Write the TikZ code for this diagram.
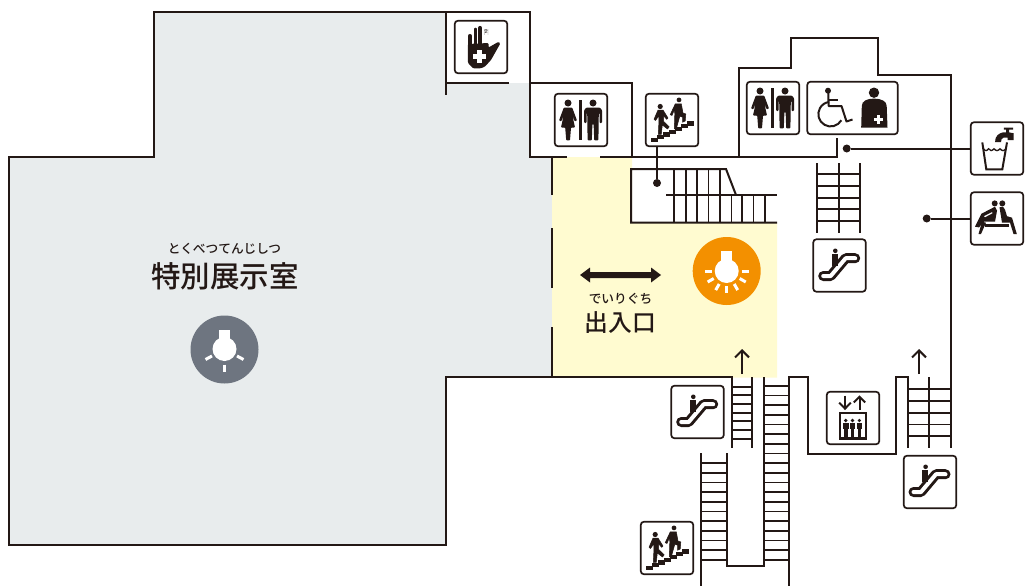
\documentclass[tikz,border=0pt]{standalone}
\usepackage{fontspec}
\newfontfamily\jpfont{Noto Sans CJK JP}
\newfontfamily\jpmed{Noto Sans CJK JP Medium}
\newfontfamily\sansf{Liberation Sans}
\usetikzlibrary{arrows.meta}
\definecolor{ink}{HTML}{231815}
\definecolor{galgrey}{HTML}{E8ECED}
\definecolor{entry}{HTML}{FFFBD0}
\definecolor{orangec}{HTML}{F39000}
\definecolor{greyc}{HTML}{6E7580}
\tikzset{
  wall/.style={draw=ink,line width=2pt,line cap=butt,line join=miter},
  rung/.style={draw=ink,line width=1.6pt},
  icon/.style={draw=ink,fill=white,line width=1.7pt,rounded corners=3pt,minimum width=52.4pt,minimum height=52.4pt,inner sep=0pt},
  dotnode/.style={circle,fill=ink,minimum size=8pt,inner sep=0pt},
  ruby/.style={font=\jpmed\fontsize{12.7}{12.7}\selectfont,text=ink,inner sep=0pt},
  bigl/.style={text=ink,inner sep=0pt},
  woman/.pic={
    \fill[ink] (14,10) circle (3.5);
    \fill[ink,rounded corners=.8pt] (9.8,14.6) -- (18.2,14.6) -- (23,27.5) -- (20.7,28.4) -- (18.3,22) -- (21,34.5) -- (17,34.5) -- (16,47.3) -- (12.2,47.3) -- (11.2,34.5) -- (7,34.5) -- (9.7,22) -- (7.3,28.4) -- (5,27.5) -- cycle;
  },
  man/.pic={
    \fill[ink] (39,10) circle (3.5);
    \fill[ink,rounded corners=.8pt] (32.3,14.6) -- (45.7,14.6) -- (48,17) -- (48,30) -- (45.5,30) -- (45.5,20) -- (44.8,20) -- (44.4,47.3) -- (40.2,47.3) -- (39.6,31) -- (38.4,31) -- (37.8,47.3) -- (33.6,47.3) -- (33.2,20) -- (32.5,20) -- (32.5,30) -- (30.2,30) -- (30.2,17) -- cycle;
  },
  wcpair/.pic={
    \pic {woman}; \pic {man};
    \fill[ink] (25.4,6.7) rectangle (28,47.3);
  },
  handicon/.pic={
    \draw[ink,line width=4.1pt,line cap=round] (16,16) -- (16,30);
    \draw[ink,line width=3.9pt,line cap=round] (21.5,9.6) -- (21.5,30);
    \draw[ink,line width=4.2pt,line cap=round] (26.2,8) -- (26.2,30);
    \fill[ink,rounded corners=1pt] (13.9,24) -- (34.5,23) -- (34.5,27.5) -- (44.5,21.8) -- (46.3,23.5) -- (37,40) -- (31,46.5) -- (27,48.3) -- (19,48.3) -- (14,43) -- cycle;
    \draw[gray,line width=.3pt] (30.2,15) -- (30.2,9.5) arc[start angle=180,end angle=0,radius=1.9] -- (34,15);
    \node[inner sep=0pt,text=ink,font=\sansf\fontsize{5.5}{5.5}\selectfont] (handtwo) at (32.1,12) {2};
    \fill[white] (23.4,30) rectangle (28,42.8);
    \fill[white] (19.2,34.1) rectangle (32.2,38.7);
  },
  stairsicon/.pic={
    \foreach \si in {0,...,6}{
      \fill[ink] (5.7+6*\si,44.8-2.75*\si) rectangle (5.7+6*\si+7,44.8-2.75*\si+4.4);
    }
    \fill[ink] (15.2,13.5) circle (2.6);
    \fill[ink] (34,6.9) circle (2.4);
    \filldraw[ink,line width=.5pt,line join=round] (13,17) -- (18,17) -- (23,25) -- (21.7,26.3) -- (18.7,23) -- (18.7,28.5) -- (24.2,33.8) -- (22.5,36) -- (17.3,32) -- (16.3,41.3) -- (13.3,41.3) -- (14,27) -- (13.7,23) -- (10.5,27.5) -- (9,26.3) -- cycle;
    \filldraw[ink,line width=.5pt,line join=round] (30.3,10.8) -- (36.3,10.8) -- (38,20) -- (40.8,21) -- (40.2,28) -- (37.5,29.3) -- (37.5,24) -- (34.7,23.5) -- (31.3,35.8) -- (29.3,35.8) -- (29.8,21) -- (29.5,16.5) -- (27,22.5) -- (25.2,21.7) -- cycle;
  },
  escicon/.pic={
    \draw[ink,line width=10pt,line cap=round,line join=round] (10.5,37) -- (18,37) -- (33,19.2) -- (42.5,19.2);
    \draw[white,line width=4pt,line cap=round,line join=round] (10.5,37) -- (18,37) -- (33,19.2) -- (42.5,19.2);
    \fill[ink] (22.6,11.8) circle (2.3);
    \fill[ink] (19,14.7) rectangle (25.2,27.3);
  },
  wcperson/.pic={
    \fill[ink] (21,9.7) circle (3);
    \draw[ink,line width=2pt,line join=round] (21.3,12) -- (21.6,25) -- (34.5,25) -- (39.5,40.5) -- (45.5,38.5);
    \draw[ink,line width=2pt] (21.5,19) -- (31,19);
    \draw[ink,line width=2pt] (34.3,39.3) arc[start angle=30,end angle=262,radius=12.3];
    \fill[ink] (67,11.7) circle (5.2);
    \fill[ink] (54.2,46.6) -- (54.8,25) .. controls (54.8,20) and (60,17.6) .. (67,17.6) .. controls (74,17.6) and (79.7,20) .. (79.7,25) -- (80.5,46.6) -- cycle;
    \fill[white] (69.7,34.3) rectangle (73,43.3);
    \fill[white] (66.9,37.2) rectangle (75.8,40.4);
  },
  watericon/.pic={
    \draw[ink,line width=2pt,line join=miter] (12.3,20.7) -- (16.3,47.7) -- (32.3,47.7) -- (37,20.7);
    \draw[ink,line width=1.3pt] (13.5,27) .. controls (15,29.5) and (17,29.5) .. (18.5,27) .. controls (20,29.5) and (22,29.5) .. (24,27) .. controls (26,29.5) and (28,29.5) .. (30,27) .. controls (32,29.5) and (34,29.5) .. (36,27);
    \fill[ink] (25,20.5) .. controls (25,14) and (29,11.5) .. (33,10.7) -- (36,10.7) -- (36,8) -- (33.8,8) -- (33.8,5.8) -- (43,5.8) -- (43,8) -- (39,8) -- (39,10.7) -- (43.5,11.5) -- (43.5,18.5) -- (37.5,18.5) -- (37.5,16) -- (33.5,16) .. controls (31.5,16.5) and (31,18) .. (31,20.5) -- cycle;
  },
  seaticon/.pic={
    \fill[ink] (24.7,11.7) circle (3);
    \fill[ink] (32.3,11.7) circle (3);
    \fill[ink] (15,32.3) rectangle (38.7,34.8);
    \fill[ink] (25,15) -- (27,19) -- (25,30) -- (14,30) -- (9,35.7) -- (5,35) -- (11.5,22) -- cycle;
    \fill[ink] (12,30) -- (16,31) -- (11,42.3) -- (8.5,42.3) -- cycle;
    \fill[ink] (29.5,15.5) -- (33,15) -- (35,18) -- (37,24.5) -- (42,26) -- (46.8,42.3) -- (43.5,42.3) -- (40,31) -- (32,31) -- cycle;
    \fill[white] (14,24.5) -- (22,20.5) -- (22.5,21.5) -- (15,25.5) -- cycle;
  },
  lifticon/.pic={
    \draw[ink,line width=2pt] (19,4.5) -- (19,17);
    \draw[ink,line width=2pt] (13.2,11.7) -- (19,17.6) -- (24.8,11.7);
    \draw[ink,line width=2pt] (33.5,6) -- (33.5,19);
    \draw[ink,line width=2pt] (27.8,11.5) -- (33.5,5.8) -- (39.2,11.5);
    \draw[ink,line width=2.2pt,fill=white] (14,22) rectangle (40,47.5);
    \foreach \hx in {19.7,26.5,33.4}{
      \fill[ink] (\hx,29.5) circle (1.8);
      \fill[ink] (\hx-2.8,31.7) rectangle (\hx+2.8,38);
      \fill[ink] (\hx-1.9,38) rectangle (\hx+1.9,46);
    }
  },
  bulbthree/.pic={
    \fill[white] (0,0) circle (12);
    \fill[white] (-5.4,-19.5) rectangle (5.4,-6);
    \draw[white,line width=3pt] (-19,10.5) -- (-12.5,7);
    \draw[white,line width=3pt] (19,10.5) -- (12.5,7);
    \draw[white,line width=3pt] (0,15.5) -- (0,23);
  },
  bulbseven/.pic={
    \fill[white] (0,0) circle (12);
    \fill[white] (-5.7,-20.3) rectangle (5.7,-6);
    \foreach \ra in {0,30,60,90,120,150,180}{
      \draw[white,line width=3pt] (\ra:15) -- (\ra:22);
    }
  },
}
\begin{document}
\begin{tikzpicture}[x=1pt,y=-1pt]
\useasboundingbox (0,0) rectangle (1028,586);
% floors
\fill[galgrey] (9,157) -- (154,157) -- (154,12) -- (446,12) -- (446,83) -- (530,83) -- (530,157) -- (552,157) -- (552,377) -- (446,377) -- (446,545) -- (9,545) -- cycle;
\fill[entry] (552,157) -- (632,157) -- (632,223) -- (777,223) -- (777,377.5) -- (552,377.5) -- cycle;
% walls
\draw[wall] (446,83) -- (446,12) -- (154,12) -- (154,157) -- (9,157) -- (9,545) -- (446,545) -- (446,377) -- (731.7,377) -- (731.7,448);
\draw[wall] (446,12) -- (530,12) -- (530,157) -- (567,157);
\draw[wall] (446,83) -- (446,95);
\draw[wall] (446,83) -- (509,83);
\draw[wall] (530,83) -- (632,83) -- (632,157);
\draw[wall] (600,157) -- (739,157) -- (739,68) -- (791,68) -- (791,38) -- (878,38) -- (878,75) -- (951,75) -- (951,448);
\draw[wall] (739,157) -- (837,157) -- (837,138);
\draw[wall] (552,157) -- (552,195);
\draw[wall] (552,228) -- (552,288);
\draw[wall] (552,327) -- (552,377);
% upper stairs
\draw[wall] (777,222.5) -- (631,222.5) -- (631,169) -- (726,169) -- (736,195);
\draw[rung] (666,195) -- (777,195);
\foreach \sx in {674,685.7,697,708.5,720}{\draw[rung] (\sx,169) -- (\sx,222);}
\foreach \sx in {731.5,742,753.5,765}{\draw[rung] (\sx,195) -- (\sx,222);}
% escalator right top
\draw[wall] (817.3,163) -- (817.3,233);
\draw[wall] (838.7,163) -- (838.7,233);
\draw[wall] (860,163) -- (860,233);
\foreach \sy in {174,186,197.7,209,221}{\draw[rung] (817.3,\sy) -- (860,\sy);}
% bottom stairs
\draw[wall] (752,377) -- (752,448);
\foreach \sy in {386.7,395,404,412.7,421,430,438.7}{\draw[rung] (731.7,\sy) -- (752,\sy);}
\draw[wall] (764,377) -- (764,566) -- (727,566) -- (727,453);
\draw[wall] (701,453) -- (701,586);
\draw[wall] (908,448) -- (908,377) -- (896,377) -- (896,453.7) -- (808,453.7) -- (808,377) -- (789,377) -- (789,586);
\foreach \sn in {0,...,18}{\draw[rung] (764,385.7+\sn*9.67) -- (789,385.7+\sn*9.67);}
\foreach \sn in {8,...,18}{\draw[rung] (701,385.7+\sn*9.67) -- (727,385.7+\sn*9.67);}
\draw[wall] (929,377) -- (929,448);
\foreach \sy in {389,401,412.7,424.3,436}{\draw[rung] (908,\sy) -- (951,\sy);}
% up arrows
\coordinate (upaS) at (742,374); \coordinate (upaT) at (742,349);
\coordinate (upbS) at (919,374); \coordinate (upbT) at (919,349);
\draw[ink,line width=2pt,-{Straight Barb[length=7pt,width=14pt,line width=2pt]}] (upaS) -- (upaT);
\draw[ink,line width=2pt,-{Straight Barb[length=7pt,width=14pt,line width=2pt]}] (upbS) -- (upbT);
% icons
\node[icon] (hand) at (481,47) {};
\pic[shift={(454,20)}] {handicon};
\node[icon] (wca) at (581,120) {};
\pic[shift={(554,93)}] {wcpair};
\node[icon] (stra) at (672,120) {};
\pic[shift={(645,93)}] {stairsicon};
\node[icon] (wcb) at (773,108) {};
\pic[shift={(746,81)}] {wcpair};
\node[icon,minimum width=90.4pt] (wheel) at (852.5,108) {};
\pic[shift={(807,81)}] {wcperson};
\node[icon] (water) at (997,148.5) {};
\pic[shift={(970,121.7)}] {watericon};
\node[icon] (seat) at (997,218.5) {};
\pic[shift={(970,191.7)}] {seaticon};
\node[icon] (esca) at (839.5,265.5) {};
\pic[shift={(812.7,239)}] {escicon};
\node[icon] (escb) at (697.5,412) {};
\pic[shift={(670.7,385)}] {escicon};
\node[icon] (lift) at (853,418) {};
\pic[shift={(826,391)}] {lifticon};
\node[icon] (escc) at (930,482) {};
\pic[shift={(903,455)}] {escicon};
\node[icon] (strb) at (667,548) {};
\pic[shift={(640,521)}] {stairsicon};
% connectors
\node[dotnode] (dotst) at (657,183) {};
\node[dotnode] (dotwa) at (846.7,148.5) {};
\node[dotnode] (dotse) at (926.7,218.5) {};
\draw[ink,line width=2pt] (stra.south -| dotst) -- (dotst);
\draw[ink,line width=2pt] (dotwa) -- (water);
\draw[ink,line width=2pt] (dotse) -- (seat);
% labels
\node[ruby] (rubya) at (224.5,249) {とくべつてんじしつ};
\node[bigl,font=\jpmed\fontsize{29.5}{29.5}\selectfont] (laba) at (225,276.5) {特別展示室};
\node[ruby] (rubyb) at (620.5,299) {でいりぐち};
\node[bigl,font=\jpmed\fontsize{23.8}{23.8}\selectfont] (labb) at (620.5,323) {出入口};
% double arrow
\fill[ink] (580,275) -- (590,267.5) -- (590,272) -- (651,272) -- (651,267.5) -- (661,275) -- (651,282.5) -- (651,278) -- (590,278) -- (590,282.5) -- cycle;
% bulbs
\fill[greyc] (224.5,349.5) circle (34);
\pic[shift={(224.5,349)}] {bulbthree};
\fill[orangec] (726.7,271) circle (34);
\pic[shift={(726.7,271)}] {bulbseven};
\end{tikzpicture}
\end{document}
